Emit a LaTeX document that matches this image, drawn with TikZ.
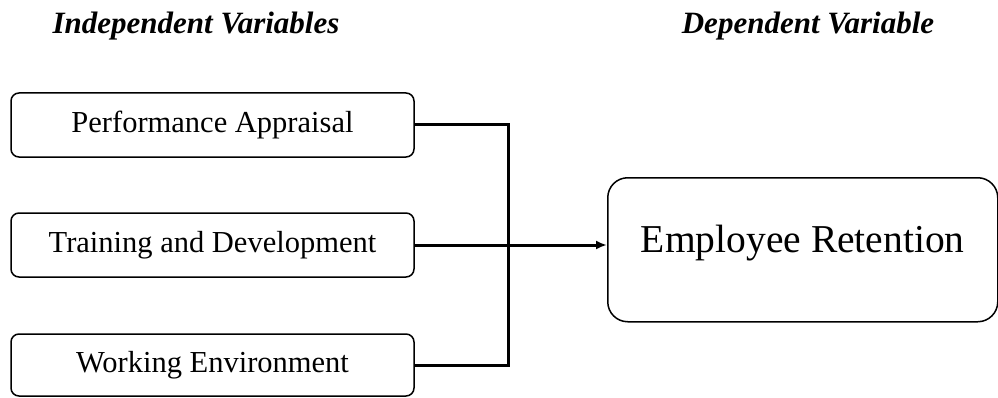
\documentclass[tikz,border=0pt]{standalone}
\usepackage{fontspec}
\setmainfont{Liberation Serif}
\usepackage{tikz}
\usetikzlibrary{arrows.meta}
\tikzset{
  varbox/.style={draw, line width=1.5pt, rounded corners=8pt, minimum width=403pt, minimum height=64pt, inner sep=0pt, font=\fontsize{30.5}{36}\selectfont},
  bigbox/.style={draw, line width=1.5pt, rounded corners=20pt, minimum width=390pt, inner sep=0pt, text height=75pt, text depth=69pt, font=\fontsize{39.5}{46}\selectfont},
  heading/.style={anchor=base, inner sep=0pt, font=\fontsize{31}{36}\selectfont\bfseries\itshape},
  link/.style={line width=3pt}
}

\begin{document}
\begin{tikzpicture}[x=1pt,y=1pt]
            \useasboundingbox (0,0) rectangle (998,397);
            \node [heading] (indep) at (196,363) {Independent Variables};
            \node [heading] (dep) at (808,363) {Dependent Variable};
            \node [varbox] (pa) at (212.5,272) {Performance Appraisal};
            \node [varbox] (td) at (212.5,152) {Training and Development};
            \node [varbox, minimum height=62pt] (we) at (212.5,32) {Working Environment};
            \node [bigbox, anchor=north west] (er) at (607,220) {Employee Retention};
            \coordinate (join) at (508,0);
            \draw [link] (pa.east) -- (pa.east -| join) -- (we.east -| join) -- (we.east);
            \draw [link, -{Latex[length=11pt,width=9pt]}] (td.east) -- (td.east -| er.west);
        \end{tikzpicture}
\end{document}
